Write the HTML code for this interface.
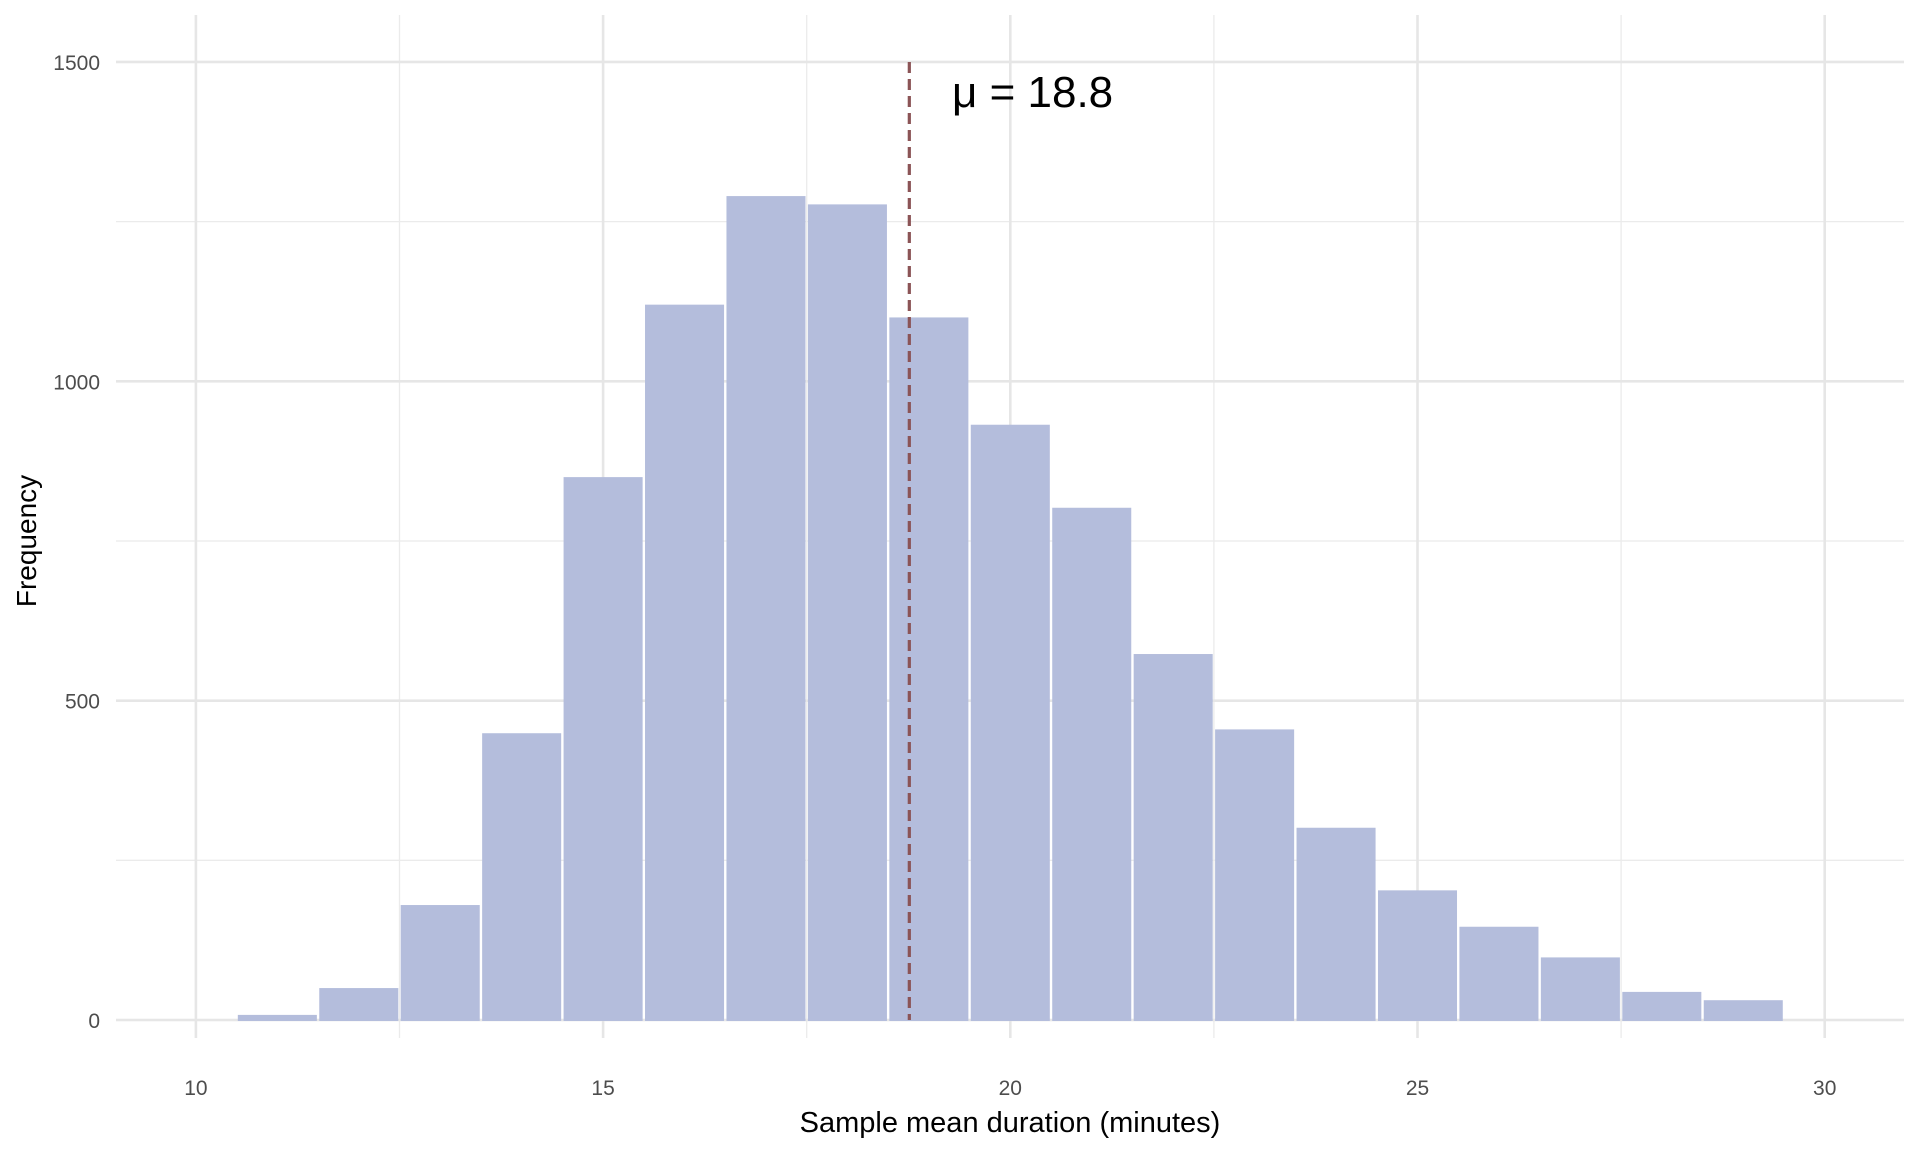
<!DOCTYPE html>
<html><head><meta charset="utf-8"><style>
html,body{margin:0;padding:0;background:#fff;}
svg{display:block;font-family:"Liberation Sans",Arial,sans-serif;}
</style></head><body>
<svg id="chart" width="1920" height="1152" viewBox="0 0 1920 1152" xmlns="http://www.w3.org/2000/svg">
<g id="grid"></g>
<g id="bars"></g>
<g id="axes"></g>
</svg>
<script>
const binCenters = [11,12,13,14,15,16,17,18,19,20,21,22,23,24,25,26,27,28,29];
const counts = [8,50,180,449,850,1120,1290,1277,1100,932,802,573,455,301,203,146,98,44,31];
const xTicks = [10,15,20,25,30];
const yTicks = [0,500,1000,1500];
const xMinor = [12.5,17.5,22.5,27.5];
const yMinor = [250,750,1250];
const meanValue = 18.76;

const NS = "http://www.w3.org/2000/svg";
const X = v => 195.9 + (v - 10) * 81.44;
const Y = v => 1020 - v * 0.6387;
const L = 116, R = 1904, T = 15, B = 1038;
function mk(tag, attrs, parent){const e=document.createElementNS(NS,tag);for(const k in attrs)e.setAttribute(k,attrs[k]);parent.appendChild(e);return e;}
const grid=document.getElementById('grid'), bars=document.getElementById('bars'), axes=document.getElementById('axes');

yMinor.forEach(v=>{const l=mk('line',{x1:L,x2:R,y1:Y(v),y2:Y(v),stroke:'#ebebeb','stroke-width':1.3},grid);

});
xMinor.forEach(v=>{const l=mk('line',{x1:X(v),x2:X(v),y1:T,y2:B,stroke:'#ebebeb','stroke-width':1.3},grid);

});
yTicks.forEach(v=>{const l=mk('line',{x1:L,x2:R,y1:Y(v),y2:Y(v),stroke:'#e6e6e6','stroke-width':2.6},grid);


const t=mk('text',{x:100,y:Y(v)+8,'text-anchor':'end','font-size':21,fill:'#4d4d4d'},axes);t.textContent=v;

});
xTicks.forEach(v=>{const l=mk('line',{x1:X(v),x2:X(v),y1:T,y2:B,stroke:'#e6e6e6','stroke-width':2.6},grid);


const t=mk('text',{x:X(v),y:1095,'text-anchor':'middle','font-size':21,fill:'#4d4d4d'},axes);t.textContent=v;

});

binCenters.forEach((c,i)=>{const y=Y(counts[i]);
const r=mk('rect',{x:X(c-0.5)+1.2,y:y,width:X(c+0.5)-X(c-0.5)-2.4,height:Y(0)-y+1,fill:'#b4bddc'},bars);

});

const ml=mk('line',{x1:X(meanValue),x2:X(meanValue),y1:Y(1500),y2:Y(0),stroke:'#8b5456','stroke-width':3.2,'stroke-dasharray':'11 6'},axes);


const mt=mk('text',{x:952,y:107,'font-size':44,fill:'#000'},axes);mt.textContent='μ = 18.8';



const xt=mk('text',{x:1010,y:1132,'text-anchor':'middle','font-size':29,fill:'#000'},axes);xt.textContent='Sample mean duration (minutes)';


const yt=mk('text',{x:0,y:0,'text-anchor':'middle','font-size':28,fill:'#000',transform:'translate(36,541) rotate(-90)'},axes);yt.textContent='Frequency';


</script>
</body></html>
